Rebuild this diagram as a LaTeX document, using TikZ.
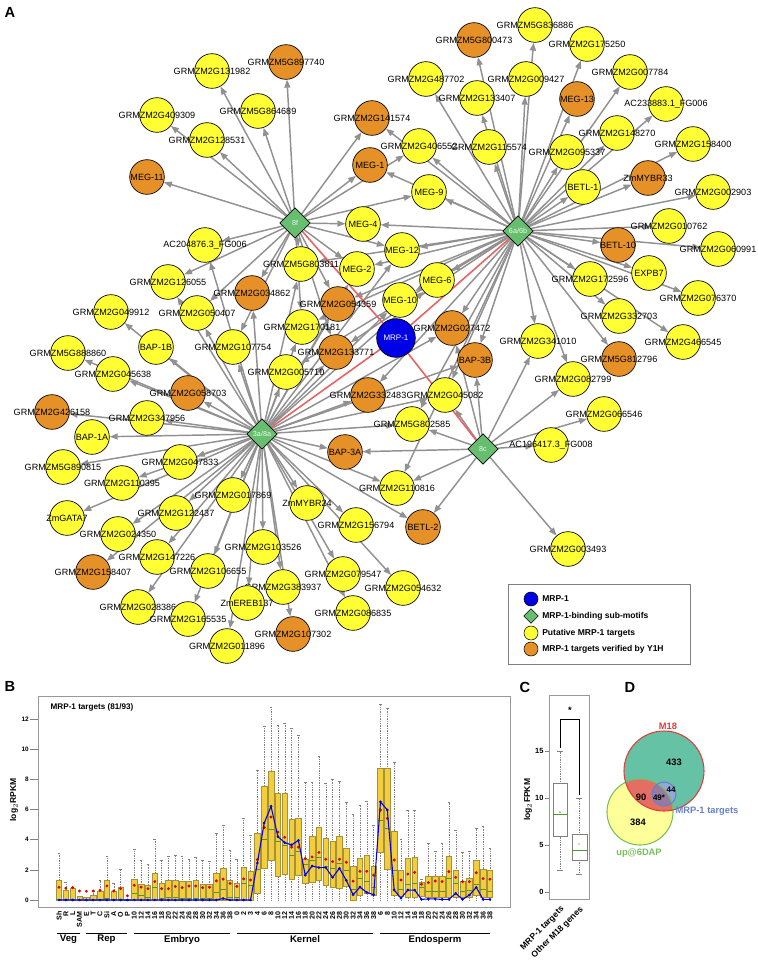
\documentclass[tikz,border=0pt]{standalone}
\usepackage{fontspec}
\setmainfont{Liberation Sans}
\usetikzlibrary{shapes.geometric,arrows.meta,backgrounds}
\definecolor{ylw}{RGB}{255,255,51}
\definecolor{org}{RGB}{230,145,40}
\definecolor{hubgreen}{RGB}{102,190,110}
\definecolor{mrpblue}{RGB}{0,0,230}
\definecolor{edgegray}{RGB}{145,145,145}
\definecolor{redline}{RGB}{230,100,100}
\definecolor{boxfill}{RGB}{242,205,60}
\definecolor{boxline}{RGB}{165,145,60}
\definecolor{medgreen}{RGB}{80,150,40}
\definecolor{vteal}{RGB}{102,194,165}
\definecolor{vred}{RGB}{225,60,60}
\definecolor{vover}{RGB}{228,110,100}
\definecolor{vyel}{RGB}{255,255,153}
\definecolor{vgreen}{RGB}{120,190,90}
\definecolor{vblue}{RGB}{100,130,200}
\newcommand\genefont{\fontsize{6.8}{7}\selectfont}
\newcommand\hubfont{\fontsize{5.4}{6}\selectfont}
\newcommand\legfont{\fontsize{6.4}{7}\selectfont\bfseries}
\newcommand\tickfont{\fontsize{5.3}{6}\selectfont\bfseries}
\newcommand\grpfont{\fontsize{7.2}{8}\selectfont\bfseries}
\newcommand\panelfont{\fontsize{11}{13}\selectfont\bfseries}
\tikzset{
  target/.style={circle,draw=black,line width=0.5pt,minimum size=26pt,inner sep=0pt},
  putative/.style={target,fill=ylw},
  verified/.style={target,fill=org},
  hub/.style={diamond,draw=black,line width=0.5pt,fill=hubgreen,minimum size=23pt,inner sep=0pt,text=white!90!hubgreen,font=\hubfont},
  mrp/.style={circle,draw=black,line width=0.5pt,fill=mrpblue,minimum size=29pt,inner sep=0pt,text=white,font=\fontsize{6}{7}\selectfont},
  genelbl/.style={font=\genefont,inner sep=0pt},
  regarrow/.style={draw=edgegray,line width=1.1pt,-{Triangle[length=6pt,width=4.5pt]}},
  mrpedge/.style={draw=redline,line width=1.2pt},
  legtxt/.style={font=\legfont,anchor=west,inner sep=0pt},
  bx/.style={fill=boxfill,draw=boxline,line width=0.4pt},
  whisk/.style={draw=gray,line width=0.3pt,densely dotted},
  med/.style={draw=medgreen,line width=0.6pt},
  frm/.style={draw=gray!80,line width=0.5pt},
  vnum/.style={font=\fontsize{7}{8}\selectfont\bfseries,inner sep=0pt},
}
\begin{document}
\begin{tikzpicture}[x=0.75pt,y=-0.75pt]
\useasboundingbox (0,0) rectangle (757,960);

% panel A: network
\node[font=\panelfont] (la) at (10,12) {A};
\node[hub] (h8f) at (295,223) {8f};
\node[hub] (h6a) at (518,231) {6a/6b};
\node[hub] (h3a) at (262,434) {3a/8a};
\node[hub] (h8c) at (483,449) {8c};
\node[mrp] (mrp) at (396,338) {MRP-1};

\foreach \n/\x/\y/\t in {g131982/212/71/GRMZM2G131982, g409309/157/115/GRMZM2G409309,
  g864689/258/111/GRMZM5G864689, g128531/207/140/GRMZM2G128531, ac204876/205/245/AC204876.3\_FG006,
  g803811/301/264/GRMZM5G803811, meg4/363/224/MEG-4, meg2/357/269/MEG-2, g126055/168/282/GRMZM2G126055,
  g049912/111/312/GRMZM2G049912, g050407/197/313/GRMZM2G050407, g170181/302/327/GRMZM2G170181,
  bap1b/156/347/BAP-1B, g107754/233/347/GRMZM2G107754, g888860/68/353/GRMZM5G888860,
  g045638/113/374/GRMZM2G045638, g005710/286/372/GRMZM2G005710, g836886/535/25/GRMZM5G836886,
  g175250/587/44/GRMZM2G175250, g487702/426/79/GRMZM2G487702, g009427/526/79/GRMZM2G009427,
  g007784/630/72/GRMZM2G007784, g133407/477/98/GRMZM2G133407, ac233883/666/104/AC233883.1\_FG006,
  g406552/419/146/GRMZM2G406552, g115574/489/147/GRMZM2G115574, g148270/617/133/GRMZM2G148270,
  g095337/567/152/GRMZM2G095337, g158400/693/144/GRMZM2G158400, meg9/429/192/MEG-9,
  betl1/583/187/BETL-1, g002903/713/192/GRMZM2G002903, g010762/669/226/GRMZM2G010762,
  g060991/718/249/GRMZM2G060991, meg12/402/250/MEG-12, meg6/437/280/MEG-6, expb7/649/273/EXPB7,
  g172596/590/279/GRMZM2G172596, meg10/400/300/MEG-10, g076370/698/298/GRMZM2G076370,
  g332703/619/316/GRMZM2G332703, g466545/683/342/GRMZM2G466545, g341010/538/341/GRMZM2G341010,
  g082799/573/379/GRMZM2G082799, g045082/445/395/GRMZM2G045082, g347956/147/418/GRMZM2G347956,
  g802585/412/424/GRMZM5G802585, bap1a/92/437/BAP-1A, g066546/604/414/GRMZM2G066546,
  ac196417/551/445/AC196417.3\_FG008, g890815/63/467/GRMZM5G890815, g047833/180/462/GRMZM2G047833,
  g110395/122/483/GRMZM2G110395, g110816/397/488/GRMZM2G110816, g017869/233/495/GRMZM2G017869,
  zmmybr24/307/503/ZmMYBR24, zmgata7/67/518/ZmGATA7, g122437/176/513/GRMZM2G122437,
  g156794/356/525/GRMZM2G156794, g024350/118/534/GRMZM2G024350, g103526/263/547/GRMZM2G103526,
  g003493/568/549/GRMZM2G003493, g147226/157/557/GRMZM2G147226, g106655/208/571/GRMZM2G106655,
  g079547/343/574/GRMZM2G079547, g383937/283/587/GRMZM2G383937, g054632/403/588/GRMZM2G054632,
  zmereb137/247/603/ZmEREB137, g028386/138/607/GRMZM2G028386, g086835/353/613/GRMZM2G086835,
  g165535/188/619/GRMZM2G165535, g011896/227/646/GRMZM2G011896}
  {\node[putative] (\n) at (\x,\y) {}; \node[genelbl] at (\n) {\t};}

\foreach \n/\x/\y/\t in {g897740/286/62/GRMZM5G897740, meg11/147/177/MEG-11,
  g141574/372/118/GRMZM2G141574, meg1/370/165/MEG-1, g034862/252/293/GRMZM2G034862,
  g054359/338/304/GRMZM2G054359, g133771/336/352/GRMZM2G133771, g800473/474/40/GRMZM5G800473,
  meg13/577/99/MEG-13, zmmybr33/648/178/ZmMYBR33, betl10/618/245/BETL-10,
  g027472/452/328/GRMZM2G027472, bap3b/475/360/BAP-3B, g812796/619/359/GRMZM5G812796,
  g058703/188/393/GRMZM2G058703, g332483/368/395/GRMZM2G332483, g426158/52/412/GRMZM2G426158,
  bap3a/345/452/BAP-3A, betl2/423/527/BETL-2, g158407/93/572/GRMZM2G158407,
  g107302/293/634/GRMZM2G107302}
  {\node[verified] (\n) at (\x,\y) {}; \node[genelbl] at (\n) {\t};}

\begin{pgfonlayer}{background}
\foreach \t in {g131982,g897740,g409309,g864689,g128531,meg11,g141574,meg1,ac204876,g126055,
  meg4,g803811,meg2,g034862,g054359,g170181,g406552,meg9,g133771,g107754,g050407,meg12}
  \draw[regarrow] (h8f) -- (\t);
\foreach \t in {g836886,g800473,g175250,g487702,g009427,g007784,g133407,meg13,ac233883,g406552,
  g115574,g148270,g095337,g158400,zmmybr33,meg9,betl1,g002903,g010762,g060991,meg12,betl10,meg6,
  expb7,g172596,meg10,g076370,g332703,g027472,g466545,g341010,bap3b,g812796,g082799,meg4,meg2,
  meg1,g141574,g054359,g133771,g803811,g170181,g045082,g332483,g802585,g110816,g005710}
  \draw[regarrow] (h6a) -- (\t);
\foreach \t in {g049912,bap1b,g888860,g045638,g058703,g426158,g347956,bap1a,g890815,g047833,
  g110395,g017869,zmgata7,g122437,g024350,g147226,g158407,g106655,g103526,g028386,g165535,
  zmereb137,g011896,g383937,g107302,g079547,g086835,zmmybr24,g156794,g054632,bap3a,g110816,
  g332483,g045082,g802585,g005710,g107754,g050407,g126055,g034862,ac204876,g170181,g133771,
  g054359,g027472,meg10,meg6,meg2,meg12,bap3b,betl2,g803811}
  \draw[regarrow] (h3a) -- (\t);
\foreach \t in {g045082,bap3b,g082799,g066546,ac196417,g110816,betl2,g003493,g341010,bap3a,
  g027472,g802585}
  \draw[regarrow] (h8c) -- (\t);
\foreach \h in {h8f,h6a,h3a,h8c}
  \draw[mrpedge] (mrp) -- (\h);
\end{pgfonlayer}

% legend
\draw[draw=gray,line width=0.6pt] (508,584) rectangle (690,664);
\node[circle,draw=black,line width=0.4pt,fill=mrpblue,minimum size=10.5pt,inner sep=0pt] (lg1) at (531,599) {};
\node[diamond,draw=black,line width=0.4pt,fill=hubgreen,minimum size=11pt,inner sep=0pt] (lg2) at (531,616) {};
\node[circle,draw=black,line width=0.4pt,fill=ylw,minimum size=10.5pt,inner sep=0pt] (lg3) at (531,633) {};
\node[circle,draw=black,line width=0.4pt,fill=org,minimum size=10.5pt,inner sep=0pt] (lg4) at (531,649) {};
\node[legtxt] at (542,599) {MRP-1};
\node[legtxt] at (542,616) {MRP-1-binding sub-motifs};
\node[legtxt] at (542,633) {Putative MRP-1 targets};
\node[legtxt] at (542,649) {MRP-1 targets verified by Y1H};

% panel B: expression boxplots
\node[font=\panelfont] (lb) at (10,686) {B};
\draw[frm] (38,696) rectangle (510,907);
\node[font=\fontsize{6.1}{7}\selectfont\bfseries,anchor=west] (btitle) at (46,707) {MRP-1 targets (81/93)};
\node[font=\fontsize{6.4}{7}\selectfont\bfseries,rotate=90] (bylab) at (14,800) {log$_2$RPKM};
\begin{scope}[shift={(59,900)},x=5.13pt,y=11.325pt]
\foreach \v in {0,2,...,12} {
  \draw[gray,line width=0.4pt] (-4.2,\v) -- (-3.1,\v);
  \node[font=\fontsize{4.8}{5}\selectfont\bfseries,anchor=east,inner sep=1pt] at (-4.2,\v) {\v};
}
\foreach \i/\lo/\md/\hi/\wt/\mn/\bl in {0/0/0.05/1.33/3.1/0.85/0, 1/0/0.05/0.62/1.2/0.78/0,
  2/0/0.05/0.78/0.85/0.82/0, 3/0/0/0.22/0.22/0.6/0, 4/0/0/0.2/0.2/0.58/0, 5/0/0/0.3/0.6/0.6/0,
  6/0/0.05/0.55/1.3/0.65/0, 7/0/0.1/1.33/2.9/0.93/0, 8/0/0.05/0.55/1.1/0.6/0, 9/0/0.05/0.85/2.05/0.75/0,
  10/0/0/0.03/0.03/0.28/0, 11/0/0.45/1.38/3.38/0.98/0, 12/0/0.3/1.07/2.62/0.85/0,
  13/0/0.2/0.98/2.4/0.75/0, 14/0/0.85/1.8/4.05/1.22/0, 15/0/0.1/1.1/2.62/0.75/0,
  16/0/0.15/1.33/2.9/0.75/0, 17/0/0.15/1.33/3.0/0.9/0, 18/0/0.1/1.27/2.9/0.82/0,
  19/0/0.1/1.27/2.67/0.93/0, 20/0/0.1/1.33/2.85/0.93/0, 21/0/0.1/1.07/2.62/0.82/0,
  22/0/0.1/1.07/2.6/0.85/0, 23/0/0.5/1.78/4.4/1.27/0, 24/0/0.67/2.1/4.93/1.38/0.1,
  25/0/0.2/1.33/3.3/1.1/0, 26/0/0.2/1.1/2.67/0.9/0, 27/0/1.1/2.2/5.45/1.4/0,
  28/0/0.95/1.88/4.3/1.33/0, 29/0.45/2.0/4.4/8.6/2.67/2.45, 30/2.1/4.0/7.5/11.5/4.8/5.1,
  31/2.6/4.7/8.55/12.8/5.5/6.2, 32/1.55/3.9/7.05/11.6/4.5/4.2, 33/1.7/3.6/7.05/11.7/4.15/3.8,
  34/1.35/2.95/5.35/11.4/3.5/3.65, 35/1.65/3.2/5.4/10.9/3.5/3.95, 36/1.1/2.35/2.7/7.8/2.75/1.65,
  37/1.2/2.6/4.2/7.8/2.85/2.25, 38/1.3/2.85/4.8/9.5/3.15/2.15, 39/0.95/2.2/4.1/7.75/2.7/2.15,
  40/0.85/2.1/3.9/8.0/2.55/1.5, 41/0.8/2.4/4.25/7.9/2.7/2.1, 42/0.9/1.95/3.4/6.5/2.5/1.3,
  43/0/0.7/2.25/5.7/1.25/0.35, 44/0.3/1.4/2.75/6.3/1.9/0.85, 45/0.45/1.2/2.95/6.55/1.9/0.5,
  46/0.3/0.85/2.25/4.95/1.65/0.35, 47/3.13/5.25/8.74/13.0/5.96/6.5, 48/2.03/4.74/8.74/12.7/5.4/5.96,
  49/0.33/1.94/4.52/9.15/2.65/0.66, 50/0.22/0.7/1.94/4.04/1.32/0.12, 51/0.17/1.06/2.76/5.96/1.72/0.66,
  52/0.17/1.1/2.83/5.96/1.83/0.66, 53/0.26/0.84/1.15/1.4/1.04/0.04, 54/0.17/0.55/1.59/3.77/1.15/0.07,
  55/0.17/0.55/1.59/3.2/1.26/0.07, 56/0.17/0.55/1.59/3.77/1.22/0.04, 57/0.2/1.4/2.9/6.5/1.88/0.04,
  58/0.2/1.1/2.0/4.64/1.5/0.44, 59/0.17/0.55/1.26/3.15/1.22/0.04, 60/0.17/0.66/1.44/3.2/1.22/0.33,
  61/0.33/1.04/2.65/4.77/1.81/0.84, 62/0.17/0.7/2.03/4.9/1.42/0.04, 63/0.17/0.55/1.97/3.44/1.38/0.04}
{
  \draw[whisk] (\i,0) -- (\i,\wt);
  \draw[gray,line width=0.3pt] (\i-0.2,\wt) -- (\i+0.2,\wt);
  \filldraw[bx] (\i-0.4,\lo) rectangle (\i+0.4,\hi);
  \draw[med] (\i-0.4,\md) -- (\i+0.4,\md);
  \fill[red!85!black] (\i,\mn) circle[radius=1.2pt];
  \coordinate (b\i) at (\i,\bl);
}
\draw[mrpblue,line width=0.8pt] (b0) \foreach \k in {1,...,63} { -- (b\k)};
\foreach \k in {0,...,63} \fill[mrpblue] (b\k) circle[radius=1.1pt];
\foreach \t [count=\i from 0] in {Sh,R,L,SAM,E,T,C,Si,A,O,P,10,12,14,16,18,20,22,24,26,28,30,32,34,36,38,
  0,2,3,4,6,8,10,12,14,16,18,20,22,24,26,28,30,32,34,36,38,
  6,8,10,12,14,16,18,20,22,24,26,28,30,32,34,36,38}
  \node[font=\tickfont,rotate=90,anchor=east,inner sep=0pt] at (\i,-0.75) {\t};
\end{scope}
\foreach \a/\b/\t in {57/80/Veg, 86/127/Rep, 134/230/Embryo, 237/373/Kernel, 380/490/Endosperm} {
  \draw[line width=0.5pt] (\a,933) -- (\b,933);
  \node[font=\grpfont,anchor=north,inner sep=0pt] at ({(\a+\b)/2},935) {\t};
}

% panel C: box plot
\node[font=\panelfont] (lc) at (525,687) {C};
\begin{scope}[shift={(0,892)},y=7.05pt]
\draw[frm] (549,20.96) rectangle (589,-0.75);
\foreach \v in {0,5,10,15} {
  \draw[gray,line width=0.4pt] (545,\v) -- (549,\v);
  \node[font=\fontsize{5.6}{6}\selectfont\bfseries,anchor=east,inner sep=1pt] at (545,\v) {\v};
}
\draw[whisk] (560,2.34) -- (560,15);
\draw[gray,line width=0.3pt] (557,2.34) -- (563,2.34) (557,15) -- (563,15);
\filldraw[fill=white,draw=gray,line width=0.4pt] (553,5.95) rectangle (567,11.6);
\draw[med] (553,8.26) -- (567,8.26);
\fill[red] (560,8.5) circle[radius=0.5pt];
\draw[whisk] (579,1.9) -- (579,10);
\draw[gray,line width=0.3pt] (576,1.9) -- (582,1.9) (576,10) -- (582,10);
\filldraw[fill=white,draw=gray,line width=0.4pt] (572,3.4) rectangle (587,6.17);
\draw[med] (572,4.47) -- (587,4.47);
\fill[red] (579,5.1) circle[radius=0.5pt];
\draw[line width=0.4pt] (560,15.3) -- (560,18.4) -- (579,18.4) -- (579,10.3);
\node[font=\fontsize{7}{8}\selectfont\bfseries] (star) at (570,19.3) {*};
\node[font=\fontsize{6.4}{7}\selectfont\bfseries,rotate=90] (cylab) at (528,9.8) {log$_2$FPKM};
\node[font=\fontsize{6.4}{7}\selectfont\bfseries,rotate=45,anchor=east,inner sep=0pt] (cx1) at (563,-1.7) {MRP-1 targets};
\node[font=\fontsize{6.4}{7}\selectfont\bfseries,rotate=45,anchor=east,inner sep=0pt] (cx2) at (582,-1.7) {Other M18 genes};
\end{scope}

% panel D: Venn diagram
\node[font=\panelfont] (ld) at (630,687) {D};
\fill[vyel] (640,812) circle[radius=33];
\fill[vteal] (664,771) circle[radius=40];
\begin{scope}
  \clip (640,812) circle[radius=33];
  \fill[vover] (664,771) circle[radius=40];
\end{scope}
\fill[vblue!70!white] (664,794) circle[radius=12];
\begin{scope}
  \clip (640,812) circle[radius=33];
  \fill[vblue!60!vover] (664,794) circle[radius=12];
\end{scope}
\draw[vgreen,line width=0.8pt] (640,812) circle[radius=33];
\draw[vred,line width=0.8pt] (664,771) circle[radius=40];
\draw[vblue,line width=0.8pt] (664,794) circle[radius=12];
\node[vnum,text=vred] (vm18) at (668,726) {M18};
\node[vnum] (v433) at (674,762) {433};
\node[vnum] (v90) at (641,797) {90};
\node[vnum,font=\fontsize{6}{7}\selectfont\bfseries] (v49) at (659,798) {49*};
\node[vnum,font=\fontsize{6}{7}\selectfont\bfseries] (v44) at (671,790) {44};
\node[vnum] (v384) at (638,822) {384};
\node[vnum,text=vblue] (vmrp) at (707,811) {MRP-1 targets};
\node[vnum,text=vgreen] (vup) at (639,853) {up@6DAP};
\end{tikzpicture}
\end{document}
